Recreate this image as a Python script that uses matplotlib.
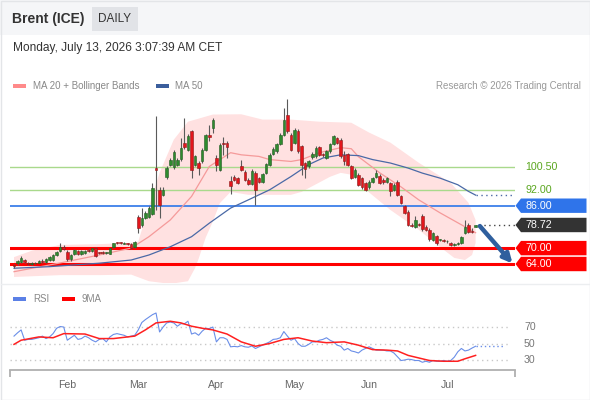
import matplotlib
matplotlib.use('Agg')
import matplotlib.pyplot as plt
import matplotlib.transforms as mtrans
from matplotlib.patches import Polygon, Rectangle
import numpy as np
import pandas as pd

plt.rcParams['font.family'] = ['Liberation Sans', 'DejaVu Sans']

# ---------------- data ----------------
dates = pd.bdate_range('2026-01-12', periods=131)

opens = [63.6, 64.2, 64.9, 65.6, 64.5, 64.0, 64.2, 64.5, 65.3, 64.7,
         65.6, 65.6, 67.4, 68.9, 70.5, 68.7, 65.8, 67.6, 69.0, 67.7,
         68.2, 69.2, 68.9, 69.9, 68.3, 68.5, 68.0, 67.9, 70.5, 72.0,
         71.9, 71.7, 71.8, 71.6, 70.4, 81.9, 78.7, 81.5, 81.9, 83.0,
         100.2, 92.0, 90.0, 96.7, 101.5, 100.5, 101.3, 103.5, 109.8, 107.2,
         114.0, 101.5, 102.2, 102.7, 107.1, 112.7, 115.3, 104.1, 99.6, 109.8,
         109.8, 95.4, 97.0, 96.5, 100.8, 98.8, 95.8, 94.3, 98.3, 96.5,
         95.0, 98.3, 101.5, 105.5, 106.5, 109.3, 112.8, 120.4, 112.8, 109.7,
         114.3, 108.4, 102.1, 100.8, 104.2, 104.6, 108.0, 105.4, 104.0, 106.5,
         109.3, 111.6, 110.9, 105.2, 105.5, 100.8, 97.0, 97.7, 96.4, 94.5,
         92.9, 94.9, 97.0, 97.3, 95.8, 95.0, 94.5, 92.0, 95.1, 89.5,
         85.7, 83.8, 78.9, 78.1, 79.0, 82.2, 78.1, 76.9, 73.1, 74.6,
         73.0, 72.9, 72.5, 71.8, 71.2, 71.5, 71.8, 75.6, 78.8, 76.4,
         78.1]
highs = [64.0, 65.6, 67.2, 66.0, 64.9, 64.6, 64.9, 65.6, 65.7, 66.1,
         66.9, 67.7, 68.9, 71.9, 71.0, 69.2, 67.8, 69.6, 69.4, 69.3,
         69.3, 69.5, 70.2, 70.3, 68.6, 68.8, 68.7, 70.2, 72.1, 72.4,
         72.3, 72.2, 72.1, 71.9, 72.6, 82.5, 85.0, 84.0, 86.0, 94.6,
         119.7, 93.0, 93.0, 101.0, 104.0, 107.0, 104.0, 111.7, 119.2, 113.0,
         114.5, 105.2, 103.0, 107.6, 113.0, 116.6, 119.0, 105.0, 109.5, 111.8,
         110.5, 97.3, 97.5, 97.0, 103.3, 99.3, 96.3, 99.7, 99.0, 97.0,
         98.5, 102.3, 105.7, 108.0, 109.8, 113.3, 122.9, 126.4, 113.3, 115.2,
         114.8, 108.9, 102.6, 103.2, 106.1, 108.4, 108.5, 105.9, 107.0, 109.8,
         112.7, 112.1, 111.4, 106.5, 106.0, 101.3, 100.1, 98.2, 96.9, 95.0,
         95.6, 96.9, 99.5, 97.8, 96.3, 96.9, 95.0, 94.4, 95.6, 90.0,
         86.2, 84.3, 79.4, 82.3, 79.5, 82.7, 78.6, 77.4, 76.1, 75.1,
         73.6, 73.3, 73.0, 72.2, 71.9, 72.2, 74.6, 80.6, 79.5, 77.6,
         78.9]
lows = [62.6, 63.8, 64.5, 64.4, 63.6, 63.7, 63.9, 64.2, 64.4, 64.4,
        65.3, 65.3, 67.1, 68.5, 69.3, 65.2, 65.3, 67.3, 67.5, 67.4,
        67.9, 68.5, 68.6, 66.8, 67.7, 67.9, 67.7, 67.6, 70.2, 71.5,
        71.4, 71.4, 71.3, 69.8, 70.1, 75.7, 78.0, 81.0, 81.5, 82.5,
        84.4, 81.4, 89.5, 96.0, 101.0, 100.0, 100.8, 103.0, 107.5, 106.5,
        96.5, 101.0, 97.7, 102.2, 106.6, 110.5, 113.5, 99.0, 99.0, 105.0,
        104.0, 90.5, 95.3, 94.0, 99.0, 95.3, 93.8, 93.8, 86.3, 94.5,
        94.5, 97.8, 101.0, 105.0, 106.0, 108.8, 112.3, 113.5, 106.6, 109.2,
        106.0, 97.7, 96.5, 100.3, 103.7, 104.1, 104.7, 104.5, 103.5, 106.0,
        108.8, 109.2, 104.1, 101.5, 101.0, 95.9, 96.5, 93.4, 92.4, 91.5,
        92.4, 94.4, 96.5, 94.0, 94.3, 94.5, 89.5, 91.5, 89.6, 86.5,
        82.7, 78.3, 78.0, 77.6, 78.2, 76.6, 76.4, 72.8, 72.6, 71.3,
        72.6, 72.3, 72.0, 70.9, 70.8, 71.1, 71.4, 75.2, 75.7, 75.6,
        77.8]
closes = [63.2, 65.0, 66.4, 64.8, 64.0, 64.2, 64.5, 65.2, 64.8, 65.8,
          66.5, 67.3, 68.6, 70.6, 69.8, 65.8, 67.3, 69.3, 67.9, 68.9,
          69.0, 68.8, 69.9, 67.1, 68.0, 68.2, 68.4, 69.9, 71.8, 71.9,
          71.8, 71.9, 71.6, 70.1, 72.3, 77.5, 81.4, 83.2, 85.3, 92.5,
          99.4, 86.3, 92.0, 100.3, 103.4, 106.3, 103.3, 107.9, 108.3, 112.2,
          99.6, 104.6, 100.3, 107.1, 112.5, 112.0, 118.5, 101.5, 109.0, 109.2,
          108.3, 93.5, 95.8, 94.6, 99.6, 95.8, 94.3, 99.2, 92.0, 95.0,
          98.0, 101.8, 105.2, 107.5, 109.3, 112.8, 118.5, 114.0, 107.1, 114.7,
          106.5, 101.5, 99.9, 102.7, 105.6, 107.9, 105.2, 105.0, 106.5, 109.3,
          112.2, 109.7, 104.6, 102.7, 101.5, 96.4, 99.6, 93.9, 92.9, 92.0,
          95.1, 96.4, 98.4, 94.5, 94.8, 96.4, 91.4, 93.9, 90.1, 87.0,
          83.2, 78.8, 78.4, 80.6, 78.6, 77.1, 76.9, 73.3, 75.6, 71.8,
          73.2, 72.6, 72.6, 71.3, 71.6, 71.9, 74.1, 77.9, 76.2, 76.1,
          78.72]

# Bollinger bands / moving averages (index of trading day, value)
bb_up_idx = [0, 5, 13, 24, 33, 35, 38, 41, 45, 49, 56, 64, 70, 78, 86, 95, 100, 106, 114, 123, 128, 130]
bb_up_val = [66.6, 69.0, 71.2, 71.5, 72.0, 72.5, 85.7, 98.4, 110.9, 117.7, 120.4, 120.5, 118.5,
             118.5, 117.7, 117.3, 113.6, 109.8, 102.2, 94.6, 87.1, 80.6]
bb_lo_idx = [0, 13, 24, 33, 38, 44, 49, 51, 52, 54, 56, 58, 61, 66, 78, 81, 89, 92, 95, 97, 100,
             106, 114, 120, 124, 127, 129, 130]
bb_lo_val = [59.1, 59.8, 59.8, 60.0, 57.5, 56.5, 57.5, 62.5, 66.0, 74.0, 80.0, 87.0, 91.2, 90.1,
             90.1, 91.2, 96.9, 98.4, 97.7, 96.0, 91.0, 84.4, 76.9, 70.4, 66.3, 65.5, 67.4, 71.9]
ma20_idx = [0, 13, 24, 33, 38, 44, 50, 55, 61, 64, 69, 72, 78, 81, 86, 92, 95, 97, 103, 109, 114,
            120, 126, 130]
ma20_val = [61.1, 64.4, 67.4, 70.0, 74.3, 80.6, 89.5, 100.8, 106.0, 105.2, 104.6, 103.4, 102.7,
            103.4, 106.0, 107.9, 107.5, 104.5, 98.4, 93.1, 88.2, 83.3, 78.8, 75.8]
ma50_idx = [0, 10, 24, 33, 38, 44, 50, 55, 61, 66, 72, 78, 83, 87, 92, 97, 101, 106, 111, 115, 120,
            125, 128, 130]
ma50_val = [62.4, 63.0, 64.3, 65.5, 67.4, 70.5, 74.3, 79.4, 85.1, 88.2, 92.0, 97.0, 101.5, 104.0,
            105.2, 104.9, 103.4, 102.1, 100.2, 98.3, 96.4, 93.9, 91.4, 90.0]

# Levels
resist_levels = [100.5, 92.0]
pivot_level = 86.0
support_levels = [70.0, 64.0]
last_price = 78.72

# RSI
rsi_idx = list(range(131))
rsi_val = [59, 63, 66.5, 54, 55, 55, 56, 57, 59, 56,
           58, 62, 68.5, 70.6, 70, 54, 57, 60, 55, 56,
           59, 57, 54, 52, 55, 56, 52, 58, 61, 62,
           61, 60, 58, 59, 60, 66.5, 75.5, 79, 82, 85,
           87, 64, 70, 75, 76, 75, 71, 74, 74, 77,
           61.5, 63, 60, 65, 68.5, 68, 70, 52, 57, 57,
           55, 46, 46.5, 46, 47.5, 46, 45.5, 47, 44, 46,
           48, 50, 52, 55, 55.5, 57, 64.5, 59, 54, 56,
           50, 46.7, 46.7, 49, 52, 52, 54, 55, 57, 54,
           52, 48, 46.7, 42, 44, 41, 40, 38.5, 42, 44,
           46, 44, 42, 42, 42, 41, 41, 38.5, 34, 29.4,
           30, 31, 30.5, 29.4, 29.4, 27.3, 28.5, 27.3, 29.4, 28.5,
           28.5, 29.4, 28.5, 29.4, 33.5, 40, 44, 41, 42, 44.5,
           46.7]
ma9_idx = [0, 2, 7, 11, 14, 20, 24, 28, 34, 37, 40, 44, 47, 50, 53, 56, 60, 64, 68, 72, 76, 80,
           84, 88, 93, 97, 101, 105, 108, 111, 117, 121, 125, 127, 130]
ma9_val = [49, 54, 58, 57, 62, 61.5, 56, 56, 59, 66.5, 75, 77, 75, 71, 68.5, 66.5, 61.5, 52,
           46.7, 50, 55, 57, 53, 51, 52, 48, 42.6, 42, 41, 35.6, 29.4, 28.5, 28.5, 31.5, 35.6]
rsi_levels = [70, 50, 30]

months = ['Feb', 'Mar', 'Apr', 'May', 'Jun', 'Jul']

# ---------------- layout ----------------
W, H = 590, 400
fig = plt.figure(figsize=(W / 100, H / 100), dpi=100)


def rect(l, t, r, b):
    return [l / W, 1 - b / H, (r - l) / W, (b - t) / H]


ov = fig.add_axes([0, 0, 1, 1], zorder=-5)
ov.set_xlim(0, W)
ov.set_ylim(H, 0)
ov.axis('off')
ov.add_patch(Rectangle((0, 0), W, 35, color='#f5f6f8', lw=0))
ov.add_patch(Rectangle((0.5, 0.5), W - 1, H - 1, fill=False, ec='#e3e5e8', lw=1))
ov.add_patch(Rectangle((92, 7), 46, 24, color='#e1e3e7', lw=0))
ov.text(12, 19, 'Brent (ICE)', fontsize=10, fontweight='bold', color='#333333', va='center')
ov.text(115, 19, 'DAILY', fontsize=8.5, color='#333333', va='center', ha='center')
ov.text(13, 48, 'Monday, July 13, 2026 3:07:39 AM CET', fontsize=8.6, color='#333333', va='center')
ov.add_patch(Rectangle((13, 84), 13, 4, color='#ff8a8a', lw=0))
ov.text(33, 86, 'MA 20 + Bollinger Bands', fontsize=7, color='#888888', va='center')
ov.add_patch(Rectangle((156, 84), 13, 4, color='#3b5e9c', lw=0))
ov.text(175, 86, 'MA 50', fontsize=7, color='#888888', va='center')
ov.text(581, 86, 'Research \u00a9 2026 Trading Central', fontsize=7, color='#999999',
        va='center', ha='right')
ov.plot([1, W - 1], [283.5, 283.5], color='#eceef0', lw=1)
ov.add_patch(Rectangle((13, 296.5), 13, 4, color='#5b80e6', lw=0))
ov.text(33, 298.5, 'RSI', fontsize=7, color='#888888', va='center')
ov.add_patch(Rectangle((62, 296.5), 13, 4, color='#ff0000', lw=0))
ov.text(81, 298.5, '9MA', fontsize=7, color='#888888', va='center')

# ---------------- main price panel ----------------
PXU = 2.65  # pixels per price unit
ax = fig.add_axes(rect(10, 92, 515, 283))
ax.set_facecolor('none')
x = np.arange(len(dates))
ax.set_xlim(-1.13, 141.1)
ax.set_ylim(56.83, 56.83 + 191 / PXU)
for s in ax.spines.values():
    s.set_visible(False)
ax.set_xticks([])
ax.set_yticks([])

ax.fill(np.r_[bb_up_idx, bb_lo_idx[::-1]], np.r_[bb_up_val, bb_lo_val[::-1]],
        color='#ffe1e1', lw=0, zorder=1)
for lv in resist_levels:
    ax.axhline(lv, color='#a9d98c', lw=1.0, zorder=2)
ax.axhline(pivot_level, color='#3d7fe9', lw=1.3, zorder=2)
for lv in support_levels:
    ax.axhline(lv, color='#ff0000', lw=2.2, zorder=2)
ax.plot(ma20_idx, ma20_val, color='#f59a9a', lw=0.9, zorder=3)
ax.plot(ma50_idx, ma50_val, color='#4a69a6', lw=0.9, zorder=3)
ax.plot([ma50_idx[-1], 141.1], [ma50_val[-1]] * 2, color='#4a69a6', lw=1, ls=(0, (1, 2.5)), zorder=3)
ax.plot([x[-1] + 1, 141.1], [last_price] * 2, color='#444444', lw=1, ls=(0, (1, 2.5)), zorder=3)

o = np.array(opens)
c = np.array(closes)
h = np.array(highs)
lo = np.array(lows)
up = c >= o
ax.vlines(x, lo, h, color='#5a5a5a', lw=0.8, zorder=5)
bb = np.minimum(o, c)
bh = np.maximum(np.abs(c - o), 0.35)
ax.bar(x[up], bh[up], bottom=bb[up], width=0.72, color='#2e8b2e', edgecolor='#245a24', lw=0.4, zorder=6)
ax.bar(x[~up], bh[~up], bottom=bb[~up], width=0.72, color='#e3161c', edgecolor='#8a1a1a', lw=0.4, zorder=6)

ax.annotate('', xy=(140.4, 64.2), xytext=(x[-1] + 1.2, last_price - 0.4),
            arrowprops=dict(arrowstyle='-|>', color='#2f5f9e', lw=3.2, mutation_scale=13,
                            shrinkA=0, shrinkB=0), zorder=8, annotation_clip=False)

tr = mtrans.blended_transform_factory(ax.transAxes, ax.transData)


def fx(px):
    return (px - 10) / 505


hh = 7.2 / PXU
for lv in resist_levels:
    ax.text(fx(525), lv, f'{lv:.2f}', transform=tr, fontsize=7.7, color='#5aa61e',
            va='center', ha='left', clip_on=False)


def tag(lv, text, fc):
    pts = [(fx(515.5), lv), (fx(521), lv + hh), (fx(586.5), lv + hh), (fx(586.5), lv - hh), (fx(521), lv - hh)]
    ax.add_patch(Polygon(pts, closed=True, transform=tr, color=fc, lw=0, clip_on=False, zorder=9))
    ax.text(fx(525.5), lv, text, transform=tr, fontsize=7.7, color='white', va='center', ha='left',
            clip_on=False, zorder=10)


tag(pivot_level, f'{pivot_level:.2f}', '#2f74ea')
tag(last_price, f'{last_price:.2f}', '#333333')
for lv in support_levels:
    tag(lv, f'{lv:.2f}', '#ff0000')

# ---------------- RSI panel ----------------
rax = fig.add_axes(rect(10, 305, 515, 370))
rax.set_facecolor('none')
rax.set_xlim(-1.13, 141.1)
rax.set_ylim(17.9, 96.7)
for k in ['top', 'left', 'right']:
    rax.spines[k].set_visible(False)
rax.spines['bottom'].set_color('#b0b0b0')
rax.spines['bottom'].set_linewidth(1.3)
rax.set_yticks([])
for lv in rsi_levels:
    rax.plot([-1.13, 139.8], [lv, lv], color='#c8c8c8', lw=1.0, ls=(0, (1, 2.5)), zorder=1)
    rax.text(fx(524), lv, str(lv), transform=mtrans.blended_transform_factory(rax.transAxes, rax.transData),
             fontsize=7.6, color='#777777', va='center', ha='left', clip_on=False)
rax.plot(rsi_idx, rsi_val, color='#6a8ee8', lw=0.8, zorder=3)
rax.plot([rsi_idx[-1], 138], [rsi_val[-1]] * 2, color='#6a8ee8', lw=1, ls=(0, (1, 2)), zorder=3)
rax.plot(ma9_idx, ma9_val, color='#ff2020', lw=1.1, zorder=4)

month_pos = [int(np.argmax(dates.month == m)) for m in range(2, 8)]
rax.set_xticks(month_pos)
rax.set_xticklabels(months, fontsize=7.6, color='#666666')
rax.tick_params(axis='x', which='major', length=0, pad=7)
rax.set_xticks([-1.13, 141.1], minor=True)
rax.tick_params(axis='x', which='minor', length=5, width=1.3, color='#b0b0b0', direction='out')

fig.savefig('out.png', dpi=100)
